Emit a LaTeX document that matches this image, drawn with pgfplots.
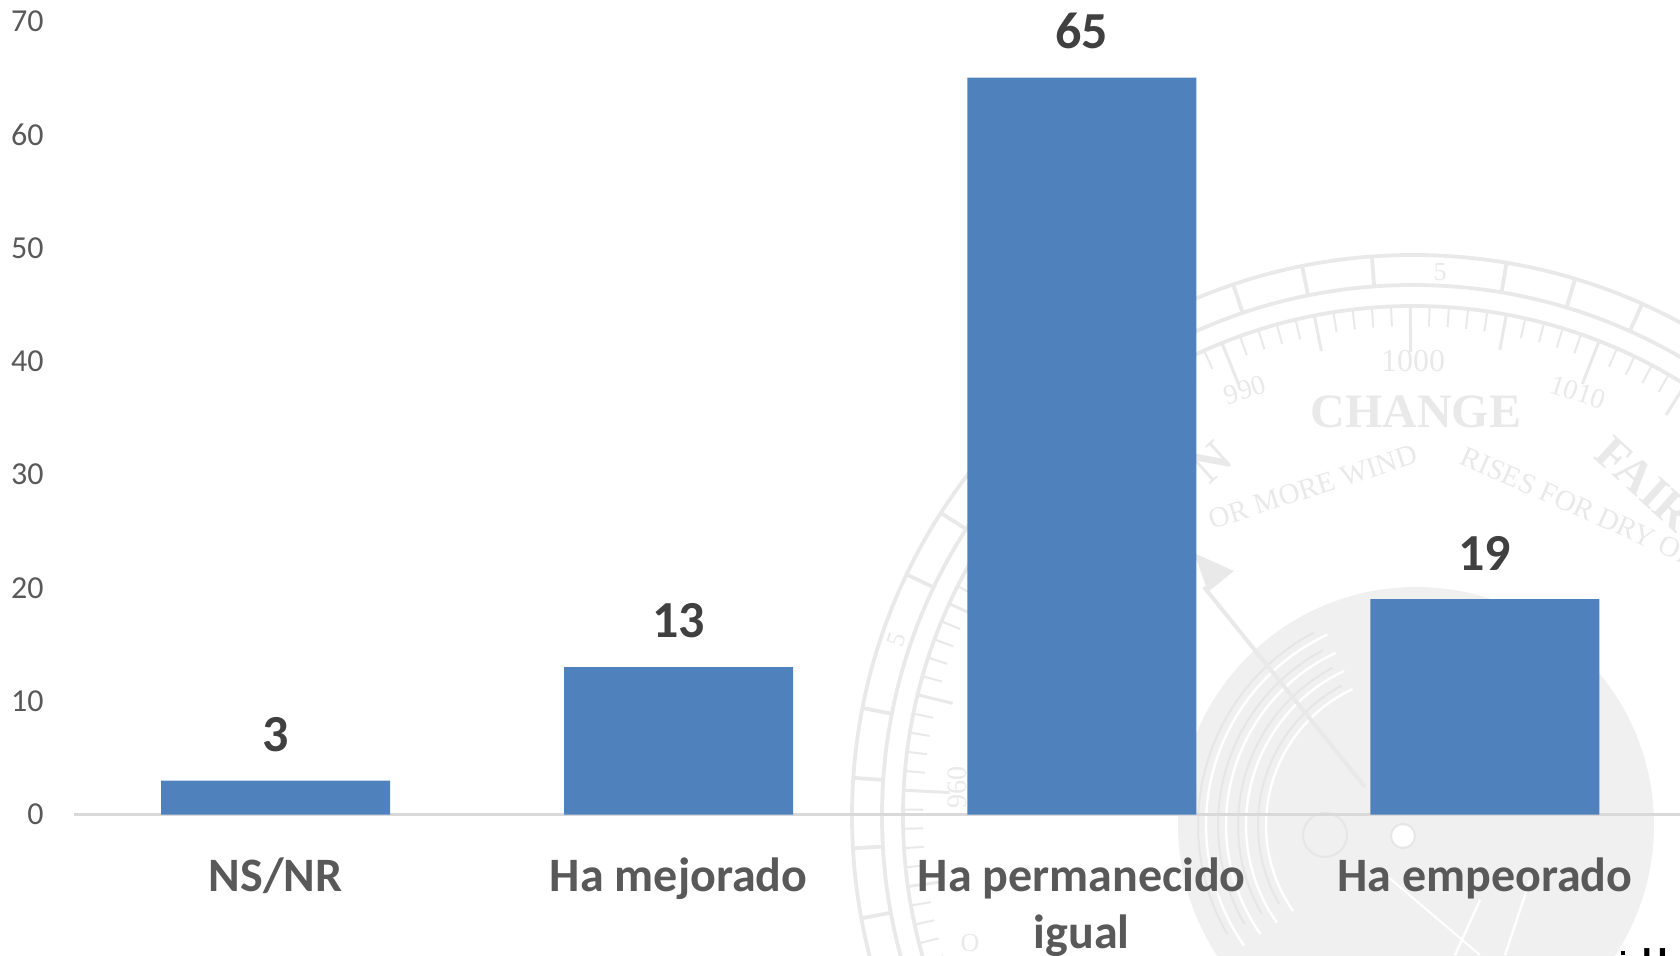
\documentclass[border=0pt]{standalone}
\usepackage{pgfplots}
\pgfplotsset{compat=1.18}
\usepackage{fontspec}
\setmainfont{Carlito}
\newfontfamily\dialfont{Liberation Serif}
\definecolor{barblue}{HTML}{4F81BD}
\definecolor{tick}{HTML}{595959}
\definecolor{val}{HTML}{404040}
\definecolor{axisl}{HTML}{D9D9D9}
\definecolor{wm}{HTML}{E9E9E9}
\definecolor{wmdisc}{HTML}{F0F0F0}
\definecolor{wmd}{HTML}{E6E6E6}
\begin{document}
\begin{tikzpicture}
\useasboundingbox (0,0) rectangle (840pt,477.5pt);
% decorative watermark, coordinates in image pixels (y runs downwards, so polar angles are negated)
\begin{scope}[x=0.5pt,y=-0.5pt,yshift=477.5pt]
\clip (0,0) rectangle (1680,955);
\fill[wmdisc] (1416,825) circle (238);
\foreach \r in {150,170,190,210}{
  \draw[white,line width=1.2pt] (1416,825) ++(-115:\r) arc (-115:-215:\r);
  \draw[wmd,line width=1pt] (1416,825) ++(-118:\r+8) arc (-118:-210:\r+8);
}
\draw[white,line width=1.2pt] (1480,900) -- (1455,955);
\draw[white,line width=1.2pt] (1530,880) -- (1505,955);
\draw[white,line width=1pt] (1380,870) -- (1480,955);
\fill[white] (1403,836) circle (12);
\draw[wmd,line width=1pt] (1403,836) circle (12);
\draw[wmd,line width=1pt] (1325,835) circle (22);
\foreach \r in {561,531,510}{
  \draw[wm,line width=1.9pt] (1413,816) circle (\r);
}
\foreach \a in {65.9,73.2,80.4,94.2,101.4,108.7,147.3,154.5,168.9,176.1,183.3,190.5}{
  \draw[wm,line width=1.9pt] (1413,816) ++(-\a:531) -- ++(-\a:30);
}
\foreach \n in {-25,...,50}{
  \pgfmathsetmacro\a{90.3+2.17*\n}
  \pgfmathtruncatemacro\mten{mod(abs(\n),10)}
  \pgfmathtruncatemacro\mfive{mod(abs(\n),5)}
  \pgfmathsetmacro\l{\mten==0 ? 46 : (\mfive==0 ? 36 : 20)}
  \pgfmathsetmacro\w{\mfive==0 ? 1.5 : 1}
  \draw[wm,line width=\w pt] (1413,816) ++(-\a:510) -- ++(-\a:-\l);
}
\draw[wm,line width=2pt] (1204,587) -- (1365,787);
\fill[wm] (1194,553) -- (1234,571) -- (1208,592) -- cycle;
\node[wm,font=\dialfont\bfseries\fontsize{24}{24}\selectfont] at (1416,412) {CHANGE};
\node[wm,font=\dialfont\fontsize{16}{16}\selectfont] at (1413,361) {1000};
\node[wm,font=\dialfont\fontsize{14}{14}\selectfont,rotate=18] at (1245,390) {990};
\node[wm,font=\dialfont\fontsize{14}{14}\selectfont,rotate=-18] at (1578,392) {1010};
\node[wm,font=\dialfont\fontsize{13}{13}\selectfont] at (1440,272) {5};
\node[wm,font=\dialfont\fontsize{13}{13}\selectfont,rotate=72] at (897,640) {5};
\node[wm,font=\dialfont\fontsize{14}{14}\selectfont,rotate=90] at (957,787) {960};
\node[wm,font=\dialfont\fontsize{13}{13}\selectfont] at (970,943) {O};
\node[wm,font=\dialfont\fontsize{14.5}{14.5}\selectfont,rotate=18] at (1313,487) {OR MORE WIND};
\node[wm,font=\dialfont\fontsize{14.5}{14.5}\selectfont,rotate=-24,anchor=west] at (1456,452) {RISES FOR DRY OR};
\node[wm,font=\dialfont\bfseries\fontsize{24}{24}\selectfont,rotate=-42] at (1645,484) {FAIR};
\node[wm,font=\dialfont\bfseries\fontsize{24}{24}\selectfont,rotate=42] at (1212,462) {N};
\node[font=\bfseries\fontsize{20}{20}\selectfont,anchor=north west,black,inner sep=0pt] at (1642,948) {H};
\fill[black] (1621,951) rectangle (1625,955);
\end{scope}
\begin{axis}[
  at={(37pt,70.25pt)},anchor=south west,
  scale only axis,width=803pt,height=396.75pt,
  ybar,bar width=114.5pt,
  xmin=-0.5,xmax=3.484,ymin=0,ymax=70,
  axis lines=left,axis line style={-},
  y axis line style={draw=none},
  x axis line style={draw=axisl,line width=1.3pt},
  xtick={0,1,2,3},
  xticklabels={NS/NR,Ha mejorado,{Ha permanecido\\igual},Ha empeorado},
  ytick={0,10,...,70},
  tick style={draw=none},
  /pgf/number format/assume math mode=true,
  yticklabel style={font=\fontsize{16}{16}\selectfont,text=tick,xshift=-9.5pt},
  xticklabel style={font=\bfseries\fontsize{24}{28.5}\selectfont,text=tick,align=center,anchor=north,yshift=-15.8pt},
  nodes near coords,
  nodes near coords style={font=\bfseries\fontsize{26}{26}\selectfont,text=val,yshift=11pt},
  point meta=explicit,
  clip=false,
]
\addplot[fill=barblue,draw=none] table[meta=y] {
x y
0 3
1 13
2 65
3 19
};
\end{axis}
\end{tikzpicture}
\end{document}
